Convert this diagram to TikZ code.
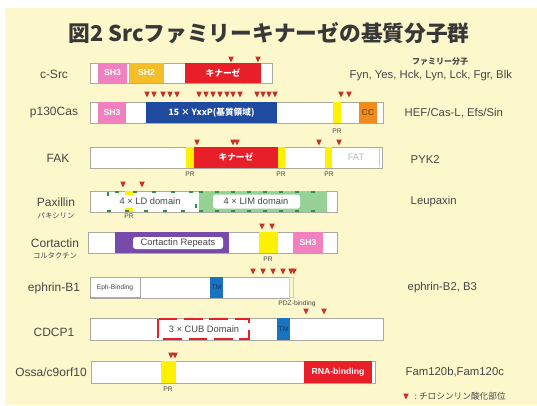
\documentclass[tikz,border=0pt]{standalone}
\usepackage{fontspec}
\setmainfont{Liberation Sans}
\newfontfamily\jp{Noto Sans CJK JP}
\definecolor{bgy}{RGB}{253,248,204}
\definecolor{txt}{RGB}{70,70,70}
\definecolor{sh3}{RGB}{240,128,190}
\definecolor{sh2}{RGB}{245,190,40}
\definecolor{kin}{RGB}{232,30,40}
\definecolor{cas}{RGB}{30,75,160}
\definecolor{ccor}{RGB}{240,140,30}
\definecolor{pry}{RGB}{255,240,0}
\definecolor{purp}{RGB}{120,75,170}
\definecolor{lgreen}{RGB}{150,210,150}
\definecolor{dgreen}{RGB}{40,150,70}
\definecolor{tmb}{RGB}{25,115,190}
\definecolor{tyrc}{RGB}{200,50,40}
\definecolor{barline}{RGB}{170,170,160}
\tikzset{
  barbox/.style={fill=white,draw=barline,line width=0.6pt},
  lbl/.style={text=txt,font=\fontsize{9}{10}\selectfont},
  rlbl/.style={text=txt,font=\fontsize{8.5}{10}\selectfont,anchor=west},
  domw/.style={text=white,font=\fontsize{6.5}{7}\selectfont\bfseries},
  domk/.style={text=txt,font=\fontsize{7}{8}\selectfont},
  tiny/.style={text=txt,font=\fontsize{5}{6}\selectfont},
}
\newcommand\tyr[2]{\fill[tyrc] (#1-2.8,#2-2.5) -- (#1+2.8,#2-2.5) -- (#1,#2+3.5) -- cycle;}
\begin{document}
\begin{tikzpicture}[x=0.75pt,y=-0.75pt]
\useasboundingbox (0,0) rectangle (537,405);
\fill[white] (0,0) rectangle (537,405);
\fill[bgy] (5,8) rectangle (537,405);

% title
\node[text=txt!80!black,font=\jp\bfseries\fontsize{16.3}{18}\selectfont] (title) at (269,33) {図2\ Srcファミリーキナーゼの基質分子群};

% ---------- c-Src
\node[lbl] (l1) at (54,74) {c-Src};
\filldraw[barbox] (90,63) rectangle (272,83);
\fill[sh3] (98,63) rectangle (127,83);
\node[domw] (s1a) at (112.5,73) {SH3};
\fill[sh2] (129,63) rectangle (164,83);
\node[domw] (s1b) at (146.5,73) {SH2};
\fill[kin] (185,63) rectangle (261,83);
\node[domw,font=\jp\bfseries\fontsize{6.5}{7}\selectfont] (s1c) at (223,73) {キナーゼ};
\tyr{231}{59}\tyr{258}{59}
\node[text=txt,font=\jp\bfseries\fontsize{6}{7}\selectfont] (fam) at (440,62) {ファミリー分子};
\node[rlbl] (r1) at (345,76) {Fyn, Yes, Hck, Lyn, Lck, Fgr, Blk};

% ---------- p130Cas
\node[lbl] (l2) at (54,113) {p130Cas};
\filldraw[barbox] (90,102) rectangle (383,123);
\fill[sh3] (98,102) rectangle (126,123);
\node[domw] (s2a) at (112,112.5) {SH3};
\fill[cas] (146,102) rectangle (277,123);
\node[domw,font=\jp\bfseries\fontsize{6.5}{7}\selectfont] (s2b) at (211.5,112.5) {15 × YxxP(基質領域)};
\fill[pry] (333,102) rectangle (341,123);
\fill[ccor] (359,102) rectangle (377,123);
\node[domw,text=ccor!60!black] (s2c) at (368,112.5) {CC};
\node[tiny] (pr2) at (337,131) {PR};
\foreach \x in {147,154,163,170,177,199,206,213,220,227,233,240,257,263,269,275,341,349}{\tyr{\x}{94}}
\node[rlbl] (r2) at (400,113) {HEF/Cas-L, Efs/Sin};

% ---------- FAK
\node[lbl] (l3) at (58,158) {FAK};
\filldraw[barbox] (90,147) rectangle (382,168);
\fill[pry] (186,147) rectangle (194,168);
\fill[kin] (194,147) rectangle (278,168);
\node[domw,font=\jp\bfseries\fontsize{6.5}{7}\selectfont] (s3a) at (236,157.5) {キナーゼ};
\fill[pry] (278,147) rectangle (285,168);
\fill[pry] (325,147) rectangle (332,168);
\draw[barline!60,line width=0.3pt] (379,148) -- (379,167);
\node[text=gray!55,font=\fontsize{7}{8}\selectfont] (s3b) at (356,157.5) {FAT};
\node[tiny] (pr3a) at (190,174) {PR};
\node[tiny] (pr3b) at (281,174) {PR};
\node[tiny] (pr3c) at (329,174) {PR};
\foreach \x in {197,233,237,319,339}{\tyr{\x}{142}}
\node[rlbl] (r3) at (406,160) {PYK2};

% ---------- Paxillin
\node[lbl] (l4) at (56,202) {Paxillin};
\node[text=txt,font=\jp\fontsize{5.5}{6}\selectfont] (l4b) at (56,216) {パキシリン};
\filldraw[barbox] (90,191) rectangle (337,212);
\fill[lgreen] (199,191) rectangle (327,212);
\draw[dgreen,line width=1.6pt,dash pattern=on 3pt off 9pt] (199,191.8) -- (327,191.8);
\draw[dgreen,line width=1.6pt,dash pattern=on 3pt off 9pt] (199,211.2) -- (327,211.2);
\filldraw[fill=white,draw=none,rounded corners=2pt] (213,194.5) rectangle (300,208.5);
\node[domk] (s4b) at (256,201.5) {4 × LIM domain};
\fill[pry] (125,191) rectangle (133,195);
\fill[pry] (125,208) rectangle (133,212);
\draw[dgreen,line width=1.4pt,dash pattern=on 3pt off 11pt] (107.7,191.7) rectangle (196.3,211.3);
\node[domk] (s4a) at (150,201.5) {4 × LD domain};
\node[tiny] (pr4) at (129,216) {PR};
\tyr{123}{184}\tyr{142}{184}
\node[rlbl] (r4) at (406,202) {Leupaxin};

% ---------- Cortactin
\node[lbl] (l5) at (55,243) {Cortactin};
\node[text=txt,font=\jp\fontsize{5.5}{6}\selectfont] (l5b) at (55,256) {コルタクチン};
\filldraw[barbox] (88,232) rectangle (337,253);
\fill[purp] (115,232) rectangle (229,253);
\filldraw[fill=white,draw=none,rounded corners=2pt] (133,237) rectangle (223,249);
\node[domk] (s5a) at (178,243) {Cortactin Repeats};
\fill[pry] (259,232) rectangle (278,253);
\fill[sh3] (293,232) rectangle (323,253);
\node[domw] (s5b) at (308,242.5) {SH3};
\node[tiny] (pr5) at (268,259) {PR};
\tyr{262}{226}\tyr{272}{226}

% ---------- ephrin-B1
\node[lbl] (l6) at (54,288) {ephrin-B1};
\filldraw[barbox] (90,277) rectangle (289,298);
\draw[barline,line width=0.5pt] (90.5,277.5) rectangle (140,297.5);
\node[tiny] (s6a) at (115,287.5) {Eph-Binding};
\fill[tmb] (210,277) rectangle (223,298);
\node[tiny,text=cas!70!black] (s6b) at (216.5,287.5) {TM};
\draw[pry!80!orange,line width=0.6pt] (289.5,277.5) rectangle (293,297.5);
\node[tiny] (s6c) at (297,304) {PDZ-binding};
\foreach \x in {253,263,273,283,291,294}{\tyr{\x}{271}}
\node[rlbl] (r6) at (403,288) {ephrin-B2, B3};

% ---------- CDCP1
\node[lbl] (l7) at (54,332) {CDCP1};
\filldraw[barbox] (90,318) rectangle (383,340);
\draw[kin,line width=1.8pt,dash pattern=on 14pt off 5pt] (158,319) rectangle (249,339);
\node[domk] (s7a) at (204,329) {3 × CUB Domain};
\fill[tmb] (277,318) rectangle (290,340);
\node[tiny,text=cas!70!black] (s7b) at (283.5,329) {TM};
\tyr{306}{311}\tyr{324}{311}

% ---------- Ossa/c9orf10
\node[lbl] (l8) at (51,372) {Ossa/c9orf10};
\filldraw[barbox] (91,361) rectangle (375,383);
\fill[pry] (161,361) rectangle (176,383);
\fill[kin] (304,361) rectangle (372,383);
\node[domw] (s8a) at (338,372) {RNA-binding};
\node[tiny] (pr8) at (168,389) {PR};
\tyr{171}{355}\tyr{175}{355}
\node[rlbl] (r8) at (401,372) {Fam120b,Fam120c};

% legend
\tyr{406}{396}
\node[text=txt,font=\jp\fontsize{6.5}{7}\selectfont,anchor=west] (leg) at (410,396) {:\ チロシンリン酸化部位};
\end{tikzpicture}
\end{document}
